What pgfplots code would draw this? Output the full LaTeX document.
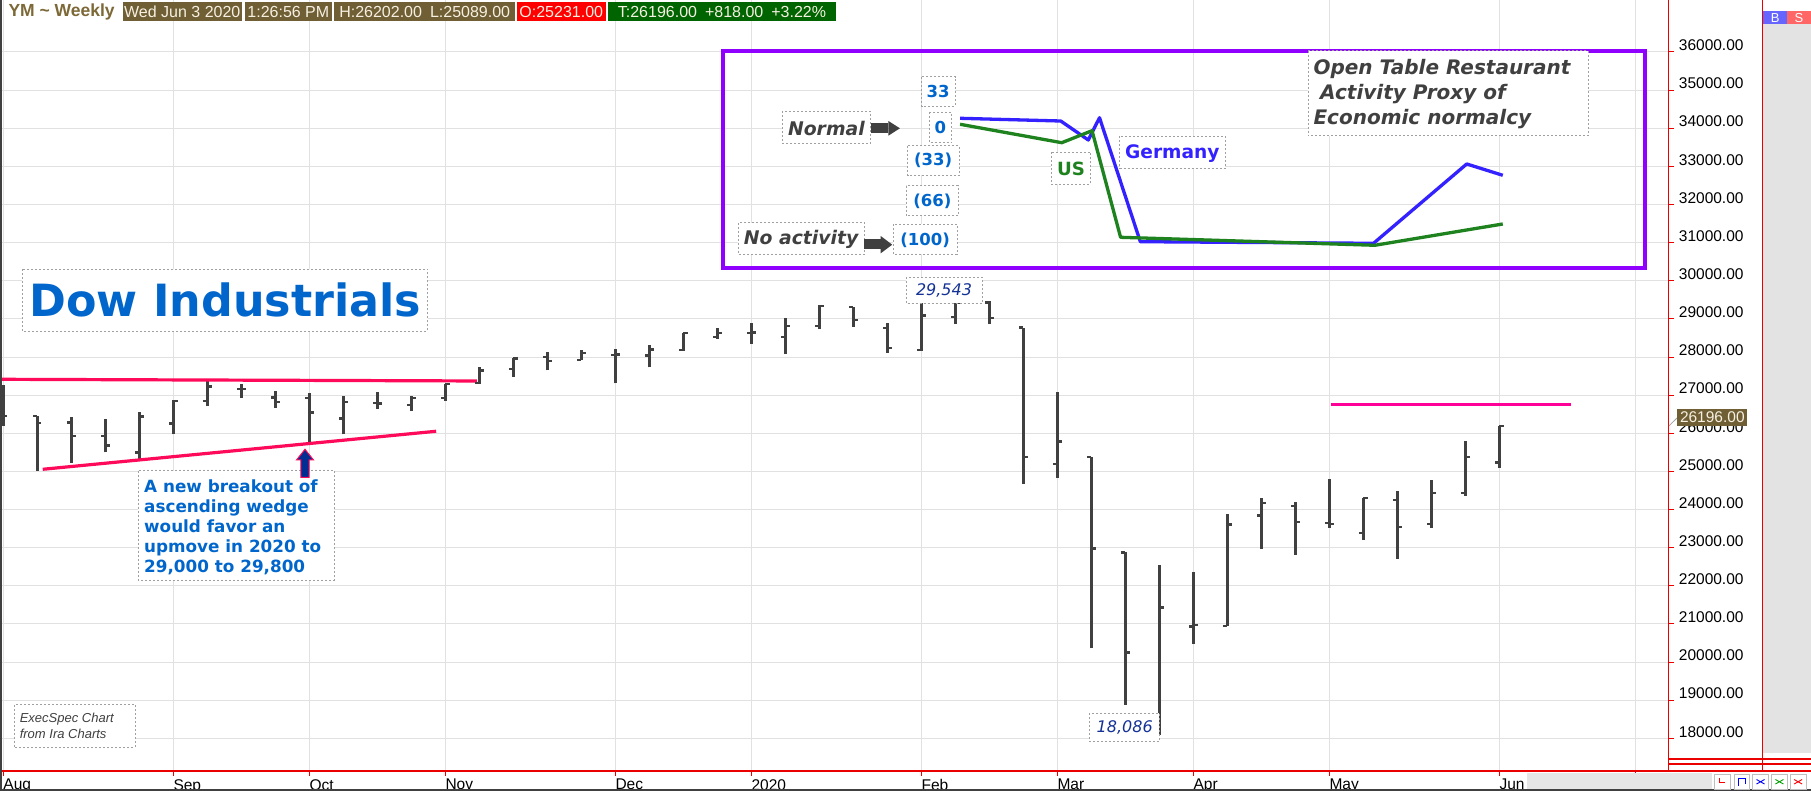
\documentclass[border=0pt]{standalone}
\usepackage{fontspec}
\setmainfont{Liberation Sans}
\newfontfamily\dv{DejaVu Sans}
\usepackage{pgfplots}
\usepackage{pgfplotstable}
\pgfplotsset{compat=1.18}
\newcommand\fs[1]{\fontsize{#1}{#1}\selectfont}
\definecolor{barcol}{RGB}{64,64,64}
\definecolor{axred}{RGB}{235,0,0}
\definecolor{gridgray}{RGB}{225,225,225}
\definecolor{wedge}{RGB}{255,10,90}
\definecolor{hotpink}{RGB}{255,0,153}
\definecolor{purp}{RGB}{143,0,255}
\definecolor{txtblue}{RGB}{0,102,204}
\definecolor{gerblue}{RGB}{51,34,255}
\definecolor{usgreen}{RGB}{30,130,30}
\definecolor{hdrbrown}{RGB}{112,95,52}
\definecolor{hdrtext}{RGB}{125,105,55}
\definecolor{hdrgreen}{RGB}{0,100,0}
\definecolor{dkgray}{RGB}{64,64,64}
\definecolor{navy}{RGB}{0,45,145}
\definecolor{boxgray}{RGB}{160,160,160}
\definecolor{panelgray}{RGB}{227,227,227}
\definecolor{labnavy}{RGB}{20,50,150}
\definecolor{cream}{RGB}{245,240,225}
\definecolor{bbtn}{RGB}{102,102,255}
\definecolor{sbtn}{RGB}{255,102,102}
\definecolor{bandgray}{RGB}{229,229,229}
\definecolor{btnborder}{RGB}{190,190,190}
\definecolor{icongreen}{RGB}{0,160,0}
\pgfdeclareplotmark{otick}{\pgfpathmoveto{\pgfqpoint{-4.2pt}{0pt}}\pgfpathlineto{\pgfqpoint{0pt}{0pt}}\pgfusepathqstroke}
\pgfdeclareplotmark{ctick}{\pgfpathmoveto{\pgfqpoint{0pt}{0pt}}\pgfpathlineto{\pgfqpoint{4.2pt}{0pt}}\pgfusepathqstroke}

\pgfplotstableread{
i O H L C
0 27240 27272 26202 26456
1 26450 26465 25018 26272
2 26280 26421 25228 25930
3 25930 26368 25500 25675
4 25500 26553 25298 26438
5 26254 26860 25974 26851
6 26842 27360 26711 27228
7 27158 27290 26921 27158
8 26939 27105 26675 26816
9 26921 27053 25737 26544
10 26386 26974 25974 26816
11 26790 27079 26632 26781
12 26746 26974 26579 26921
13 26930 27290 26851 27290
14 27318 27731 27291 27643
15 27687 27968 27476 27960
16 28004 28144 27652 27889
17 27924 28188 27924 28109
18 28060 28215 27309 28070
19 28039 28320 27731 28197
20 28188 28637 28162 28637
21 28522 28751 28478 28637
22 28630 28901 28338 28645
23 28522 29033 28074 28813
24 28813 29367 28733 29340
25 29314 29314 28795 28971
26 28760 28892 28118 28241
27 28180 29480 28162 29094
28 29050 29543 28874 29428
29 29428 29464 28874 29024
30 28772 28772 24675 25377
31 25193 27070 24825 25789
32 25377 25377 20360 22982
33 22877 22877 18886 20246
34 18509 22544 18086 21430
35 20930 22351 20482 20965
36 20947 23886 20947 23605
37 23842 24307 22965 24167
38 24096 24210 22816 23667
39 23649 24798 23526 23614
40 23377 24307 23210 24307
41 24254 24474 22710 23544
42 23623 24772 23526 24430
43 24430 25789 24360 25377
44 25231 26202 25089 26196
}\ohlc

\begin{document}
\begin{tikzpicture}
\useasboundingbox (0,0) rectangle (1811pt,791pt);
\fill[white] (0,0) rectangle (1811pt,791pt);
\begin{axis}[
  at={(0pt,20pt)}, anchor=south west,
  scale only axis, width=1668.7pt, height=771pt,
  xmin=-0.097, xmax=48.98, ymin=17143, ymax=37364,
  scaled y ticks=false, scaled x ticks=false,
  axis x line*=bottom, axis y line*=right,
  axis line style={-, draw=axred, line width=1.3pt},
  xtick={0,5,9,13,18,22,27,31,35,39,44,48},
  xticklabels={Aug,Sep,Oct,Nov,Dec,2020,Feb,Mar,Apr,May,Jun,Jul},
  ytick={18000,19000,20000,21000,22000,23000,24000,25000,26000,27000,28000,29000,30000,31000,32000,33000,34000,35000,36000},
  yticklabels={18000.00,19000.00,20000.00,21000.00,22000.00,23000.00,24000.00,25000.00,26000.00,27000.00,28000.00,29000.00,30000.00,31000.00,32000.00,33000.00,34000.00,35000.00,36000.00},
  tick align=outside, major tick length=5pt,
  tick style={draw=axred, line width=1pt},
  grid=major, grid style={draw=gridgray, line width=1pt},
  xticklabel style={font=\fs{15.5}, anchor=north west, inner sep=0pt, yshift=-3pt},
  yticklabel style={font=\fs{15.5}, anchor=west, inner sep=0pt, xshift=5pt, yshift=6.6pt},
  clip=true,
]
\addplot[draw=none, mark=none, forget plot, error bars/.cd, y dir=plus, y explicit, error mark=none,
  error bar style={line width=2.6pt, draw=barcol}]
  table[x=i, y=L, y error expr=\thisrow{H}-\thisrow{L}] {\ohlc};
\addplot[only marks, mark=otick, mark options={draw=barcol, line width=2.4pt}] table[x=i, y=O] {\ohlc};
\addplot[only marks, mark=ctick, mark options={draw=barcol, line width=2.4pt}] table[x=i, y=C] {\ohlc};
\addplot[wedge, line width=3.2pt] coordinates {(-0.097,27416) (13.93,27372)};
\addplot[wedge, line width=3.2pt] coordinates {(1.16,25056) (12.73,26053)};
\addplot[hotpink, line width=3.3pt] coordinates {(39.05,26763) (46.1,26763)};
\addplot[gerblue, line width=3.3pt, line join=round] coordinates {(28.14,34261) (31.10,34190) (31.91,33692) (32.24,34277) (33.44,31025) (40.30,30983) (43.04,33063) (44.10,32766)};
\addplot[usgreen, line width=3.3pt, line join=round] coordinates {(28.14,34104) (31.13,33621) (32.02,33936) (32.86,31140) (40.34,30931) (44.10,31489)};
\end{axis}
\begin{scope}[x=1pt, y=-1pt, shift={(0pt,791pt)}]
  % frame lines
  \draw[axred, line width=1.3pt] (1668,771) -- (1811,771);
  \fill[panelgray] (1763,24.5) rectangle (1811,753);
  \draw[axred, line width=1.3pt] (1762.7,0) -- (1762.7,771);
  \draw[axred, line width=1.3pt] (1668,759) -- (1811,759);
  \draw[axred, line width=1.3pt] (1668,764) -- (1811,764);
  \draw[barcol, line width=1.5pt] (0.75,0) -- (0.75,791);
  \draw[barcol, line width=1.5pt] (0,790.25) -- (1811,790.25);
  % B S
  \fill[bbtn] (1763.3,11) rectangle (1787,24.5);
  \fill[sbtn] (1787,11) rectangle (1811,24.5);
  \node[white, font=\fs{13}] at (1775.2,17.8) {B};
  \node[white, font=\fs{13}] at (1799,17.8) {S};
  % bottom band and buttons
  \fill[bandgray] (1527,773) rectangle (1712,789);
  \foreach \bx in {1714.3,1734,1752.7,1771.7,1790.3}{
    \draw[fill=white, draw=btnborder, line width=0.8pt] (\bx,774.3) rectangle ++(15.7,15);
  }
  \draw[red, line width=1pt] (1719.5,778) -- (1719.5,783) -- (1725,783);
  \draw[blue, line width=1pt] (1738,786) -- (1738,779) -- (1745,779) -- (1745,784);
  \foreach \bx/\bc in {1760.5/blue,1779.4/icongreen,1798.1/red}{
    \draw[\bc, line width=0.9pt] (\bx-4,779.5) -- (\bx,781.8) -- (\bx+4,779.5) (\bx-4,784) -- (\bx,781.8) -- (\bx+4,784);
  }
  % price marker
  \draw[boxgray, line width=0.8pt] (1669,425.8) -- (1677,418);
  \fill[hdrbrown] (1677.3,408.7) rectangle (1747.3,426.3);
  \node[cream, font=\fs{15.5}] at (1712.3,417.5) {26196.00};
  % header
  \node[anchor=west, hdrtext, font=\fs{17.5}\bfseries] at (5,11.5) {YM \textasciitilde\ Weekly};
  \fill[hdrbrown] (122.5,2) rectangle (242,21.5);
  \node[cream, font=\fs{16}] at (182.25,11.75) {Wed Jun 3 2020};
  \fill[hdrbrown] (245,2) rectangle (331.7,21.5);
  \node[cream, font=\fs{16}] at (288.35,11.75) {1:26:56 PM};
  \fill[hdrbrown] (334.4,2) rectangle (515,21.5);
  \node[cream, font=\fs{16}] at (424.7,11.75) {H:26202.00\enspace L:25089.00};
  \fill[red] (516.5,2) rectangle (606,21.5);
  \node[cream, font=\fs{16}] at (561.25,11.75) {O:25231.00};
  \fill[hdrgreen] (607.6,2) rectangle (836.3,21.5);
  \node[cream, font=\fs{16}] at (721.95,11.75) {T:26196.00\enspace +818.00\enspace +3.22\%};
  % Dow Industrials
  \draw[boxgray, dash pattern=on 2pt off 2pt, line width=0.8pt, fill=white] (22.3,269) rectangle (427.7,331);
  \node[anchor=base, txtblue, font=\dv\fs{44.4}\bfseries, inner sep=0pt] at (225.3,316.7) {Dow Industrials};
  % wedge annotation
  \draw[boxgray, dash pattern=on 2pt off 2pt, line width=0.8pt, fill=white] (138.3,470.7) rectangle (334.3,580);
  \foreach \ln/\bl in {{A new breakout of}/492.3,{ascending wedge}/512.3,{would favor an}/532.3,{upmove in 2020 to}/552.3,{29,000 to 29,800}/572.3}{
    \node[anchor=base west, txtblue, font=\dv\fs{16.8}\bfseries, inner sep=0pt] at (144,\bl) {\ln};
  }
  \draw[wedge, line width=1pt, fill=navy] (305,449.3) -- (313.5,460) -- (309.2,460) -- (309.2,477.3) -- (300.8,477.3) -- (300.8,460) -- (296.5,460) -- cycle;
  % ExecSpec
  \draw[boxgray, dash pattern=on 2pt off 2pt, line width=0.8pt, fill=white] (13.9,704.6) rectangle (135.1,747.3);
  \node[anchor=base west, font=\fs{13}\itshape, text=dkgray, inner sep=0pt] at (19.6,722.5) {ExecSpec Chart};
  \node[anchor=base west, font=\fs{13}\itshape, text=dkgray, inner sep=0pt] at (19.6,739) {from Ira Charts};
  % high / low labels
  \draw[boxgray, dash pattern=on 2pt off 2pt, line width=0.8pt, fill=white] (906,277) rectangle (982,303.5);
  \node[labnavy, font=\dv\fs{16}\itshape] at (944,290.5) {29,543};
  \draw[boxgray, dash pattern=on 2pt off 2pt, line width=0.8pt, fill=white] (1089.3,713.3) rectangle (1159.3,741.7);
  \node[labnavy, font=\dv\fs{16}\itshape] at (1124.7,727.2) {18,086};
  % inset
  \draw[purp, line width=4pt] (723,50.7) rectangle (1645,268);
  \draw[boxgray, dash pattern=on 2pt off 2pt, line width=0.8pt, fill=white] (782.4,111) rectangle (870.4,143.3);
  \node[dkgray, font=\dv\fs{18.8}\bfseries\itshape] at (826.4,128.3) {Normal};
  \fill[dkgray] (871.2,123.3) rectangle (888.4,132.7);
  \fill[dkgray] (888.4,121) -- (899.9,128.3) -- (888.4,135.7) -- cycle;
  \draw[boxgray, dash pattern=on 2pt off 2pt, line width=0.8pt, fill=white] (738.4,222.7) rectangle (864.7,254.3);
  \node[dkgray, font=\dv\fs{18.8}\bfseries\itshape] at (801.1,239.3) {No activity};
  \fill[dkgray] (863.5,239.3) rectangle (880.7,249.3);
  \fill[dkgray] (880.7,236) -- (892.2,244.7) -- (880.7,253.3) -- cycle;
  \foreach \xa/\ya/\xb/\yb/\tx/\ty/\t in {921.7/76.7/955.4/106/938.1/91.7/33, 929.3/112/951.5/142.7/940.4/127.3/0, 907.5/145.7/959.2/175.3/933.2/160.7/(33), 906.4/185.7/958.4/215.7/932.4/201.3/(66), 893.4/224.3/957.3/254.3/925.1/240.7/(100)}{
    \draw[boxgray, dash pattern=on 2pt off 2pt, line width=0.8pt, fill=white] (\xa,\ya) rectangle (\xb,\yb);
    \node[txtblue, font=\dv\fs{16.5}\bfseries] at (\tx,\ty) {\t};
  }
  \draw[boxgray, dash pattern=on 2pt off 2pt, line width=0.8pt, fill=white] (1051.4,152.3) rectangle (1090.5,184.3);
  \node[usgreen, font=\dv\fs{18.2}\bfseries] at (1071,169.3) {US};
  \draw[boxgray, dash pattern=on 2pt off 2pt, line width=0.8pt, fill=white] (1119.5,136.3) rectangle (1225.2,168.3);
  \node[gerblue, font=\dv\fs{18.6}\bfseries] at (1172.3,153.3) {Germany};
  \draw[boxgray, dash pattern=on 2pt off 2pt, line width=0.8pt, fill=white] (1308.3,50.7) rectangle (1588.3,135.7);
  \node[anchor=base west, dkgray, font=\dv\fs{20}\bfseries\itshape, inner sep=0pt] at (1313.3,75) {Open Table Restaurant};
  \node[anchor=base west, dkgray, font=\dv\fs{20}\bfseries\itshape, inner sep=0pt] at (1320,100) {Activity Proxy of};
  \node[anchor=base west, dkgray, font=\dv\fs{20}\bfseries\itshape, inner sep=0pt] at (1313.3,125) {Economic normalcy};
\end{scope}
\end{tikzpicture}
\end{document}
